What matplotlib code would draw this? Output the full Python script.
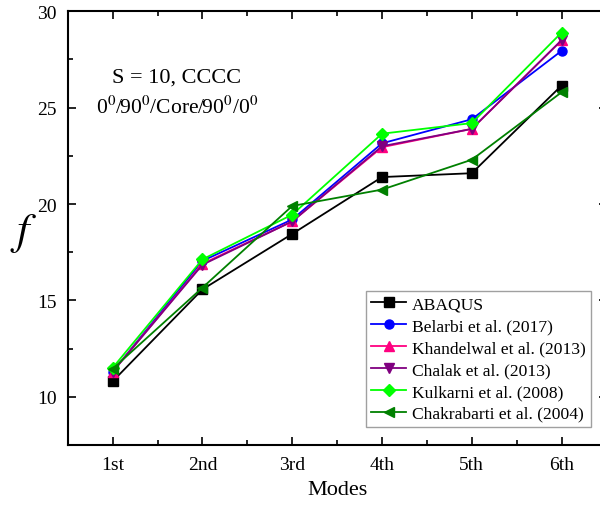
import matplotlib
matplotlib.use("Agg")
import matplotlib.pyplot as plt
from matplotlib.ticker import MultipleLocator

plt.rcParams['font.family'] = ['Liberation Serif', 'DejaVu Serif']
plt.rcParams['mathtext.fontset'] = 'stix'

modes = ["1st", "2nd", "3rd", "4th", "5th", "6th"]
abaqus = [10.8, 15.57, 18.45, 21.4, 21.6, 26.15]
belarbi = [11.3, 17.05, 19.2, 23.15, 24.4, 27.95]
khandelwal = [11.3, 16.9, 19.1, 22.95, 23.9, 28.5]
chalak = [11.3, 16.85, 19.1, 23.0, 23.9, 28.5]
kulkarni = [11.5, 17.13, 19.45, 23.65, 24.2, 28.9]
chakrabarti = [11.45, 15.66, 19.9, 20.75, 22.3, 25.8]

series = [
    ("ABAQUS", abaqus, "black", "s"),
    ("Belarbi et al. (2017)", belarbi, "#0000FF", "o"),
    ("Khandelwal et al. (2013)", khandelwal, "#FF0080", "^"),
    ("Chalak et al. (2013)", chalak, "#800080", "v"),
    ("Kulkarni et al. (2008)", kulkarni, "#00FF00", "D"),
    ("Chakrabarti et al. (2004)", chakrabarti, "#008000", "<"),
]

fig = plt.figure(figsize=(6.0, 5.06), dpi=100)
ax = fig.add_axes([67.7/600, 60/506, 6*89.8/600, 433.7/506])
x = list(range(1, len(modes) + 1))
for name, vals, col, mk in series:
    ms = 6.5 if mk != "D" else 6
    ax.plot(x, vals, color=col, marker=mk, markersize=ms, linewidth=1.3, label=name)

ax.set_xlim(0.5, 6.5)
ax.set_ylim(7.5, 30)
ax.set_xticks(x)
ax.set_xticklabels(modes)
ax.xaxis.set_minor_locator(MultipleLocator(0.5))
ax.yaxis.set_major_locator(MultipleLocator(5))
ax.yaxis.set_minor_locator(MultipleLocator(2.5))
ax.tick_params(which='both', direction='in', top=True, right=True, labelsize=14, width=1.2)
ax.tick_params(which='major', length=6, pad=8)
ax.tick_params(which='minor', length=3.5)
for sp in ax.spines.values():
    sp.set_linewidth(1.5)

ax.set_xlabel("Modes", fontsize=16, labelpad=5)
ax.set_ylabel("$f$", fontsize=32, rotation=0, va='center', ha='center')
ax.yaxis.set_label_coords(-0.082, 0.49)

ax.text(177/600, 1 - 78/506, "S = 10, CCCC", transform=fig.transFigure,
        ha='center', va='center', fontsize=16)
ax.text(177/600, 1 - 108/506, "0$^0$/90$^0$/Core/90$^0$/0$^0$", transform=fig.transFigure,
        ha='center', va='center', fontsize=15.5)

leg = ax.legend(loc='upper left', bbox_to_anchor=(366/600, 1 - 292/506),
                bbox_transform=fig.transFigure, fontsize=12.6, frameon=True,
                fancybox=False, edgecolor='#888888', handlelength=2.0,
                handletextpad=0.3, labelspacing=0.32, borderpad=0.3,
                borderaxespad=0)
leg.get_frame().set_linewidth(1.0)

fig.savefig("out.png", dpi=100)
